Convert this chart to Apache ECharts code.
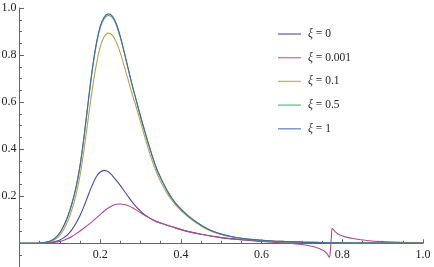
<!DOCTYPE html>
<html>
<head>
<meta charset="utf-8">
<script src="https://cdn.jsdelivr.net/npm/echarts@6/dist/echarts.min.js"></script>
<style>html,body{margin:0;padding:0;background:#fff}#c{width:434px;height:267px}</style>
</head>
<body>
<div id="c"></div>
<script>
// Tick labels
const xTicks = [0.2, 0.4, 0.6, 0.8, 1.0];
const yTicks = [0.2, 0.4, 0.6, 0.8, 1.0];
const legendLabels = ['0', '0.001', '0.1', '0.5', '1'];

// Series values [x, y]
const xi0 = [[0,0],[0.05,0],[0.06,0.001],[0.07,0.002],[0.08,0.004],[0.09,0.008],[0.10,0.014],[0.11,0.024],[0.12,0.038],[0.13,0.058],[0.14,0.085],[0.15,0.118],[0.16,0.158],[0.17,0.203],[0.18,0.246],[0.19,0.282],[0.20,0.303],[0.21,0.31],[0.22,0.304],[0.23,0.288],[0.24,0.267],[0.25,0.245],[0.26,0.221],[0.27,0.197],[0.28,0.174],[0.29,0.154],[0.30,0.137],[0.31,0.122],[0.32,0.11],[0.33,0.1],[0.34,0.092],[0.35,0.086],[0.36,0.08],[0.38,0.069],[0.40,0.058],[0.45,0.038],[0.50,0.024],[0.55,0.015],[0.60,0.009],[0.65,0.006],[0.70,0.004],[0.80,0.002],[0.90,0.001],[1.0,0.0]];
const xi0001 = [[0,0],[0.05,0],[0.06,0.001],[0.07,0.002],[0.08,0.003],[0.09,0.005],[0.10,0.008],[0.11,0.013],[0.12,0.02],[0.13,0.029],[0.14,0.04],[0.15,0.052],[0.16,0.065],[0.17,0.078],[0.18,0.092],[0.19,0.107],[0.20,0.122],[0.21,0.137],[0.22,0.15],[0.23,0.16],[0.24,0.166],[0.25,0.167],[0.26,0.165],[0.27,0.159],[0.28,0.151],[0.29,0.141],[0.30,0.13],[0.31,0.119],[0.32,0.109],[0.33,0.1],[0.34,0.092],[0.35,0.086],[0.36,0.08],[0.38,0.069],[0.40,0.058],[0.45,0.038],[0.50,0.024],[0.55,0.015],[0.60,0.008],[0.65,0.002],[0.70,-0.005],[0.728,-0.014],[0.753,-0.031],[0.762,-0.044],[0.768,-0.06],[0.7705,-0.03],[0.773,0.03],[0.775,0.064],[0.778,0.058],[0.785,0.045],[0.794,0.035],[0.81,0.026],[0.827,0.02],[0.86,0.012],[0.90,0.007],[0.95,0.004],[1.0,0.002]];
const xi01 = [[0,0],[0.04,0],[0.05,0.001],[0.06,0.002],[0.07,0.005],[0.08,0.01],[0.09,0.019],[0.10,0.034],[0.11,0.06],[0.12,0.096],[0.13,0.144],[0.14,0.206],[0.15,0.288],[0.16,0.398],[0.17,0.525],[0.18,0.65],[0.19,0.755],[0.20,0.835],[0.21,0.878],[0.22,0.893],[0.23,0.885],[0.24,0.855],[0.25,0.808],[0.26,0.75],[0.27,0.69],[0.28,0.63],[0.29,0.575],[0.30,0.515],[0.31,0.455],[0.32,0.397],[0.33,0.345],[0.34,0.3],[0.35,0.262],[0.36,0.23],[0.37,0.201],[0.38,0.178],[0.39,0.157],[0.40,0.14],[0.42,0.109],[0.44,0.085],[0.46,0.064],[0.48,0.048],[0.50,0.037],[0.52,0.029],[0.55,0.02],[0.60,0.012],[0.65,0.007],[0.70,0.005],[0.75,0.003],[0.80,0.002],[0.90,0.001],[1.0,0.0]];
const xi05 = [[0,0],[0.04,0],[0.05,0.001],[0.06,0.003],[0.07,0.006],[0.08,0.013],[0.09,0.025],[0.10,0.044],[0.11,0.075],[0.12,0.115],[0.13,0.169],[0.14,0.236],[0.15,0.328],[0.16,0.452],[0.17,0.594],[0.18,0.73],[0.19,0.84],[0.20,0.916],[0.21,0.956],[0.22,0.968],[0.23,0.96],[0.24,0.928],[0.25,0.874],[0.26,0.807],[0.27,0.736],[0.28,0.666],[0.29,0.602],[0.30,0.538],[0.31,0.478],[0.32,0.419],[0.33,0.365],[0.34,0.316],[0.35,0.277],[0.36,0.242],[0.37,0.211],[0.38,0.185],[0.39,0.163],[0.40,0.145],[0.42,0.113],[0.44,0.087],[0.46,0.066],[0.48,0.05],[0.50,0.038],[0.52,0.03],[0.55,0.021],[0.60,0.013],[0.65,0.008],[0.70,0.005],[0.75,0.003],[0.80,0.002],[0.90,0.001],[1.0,0.0]];
const xi1 = [[0,0],[0.04,0],[0.05,0.001],[0.06,0.003],[0.07,0.006],[0.08,0.013],[0.09,0.025],[0.10,0.045],[0.11,0.076],[0.12,0.116],[0.13,0.17],[0.14,0.238],[0.15,0.33],[0.16,0.455],[0.17,0.598],[0.18,0.735],[0.19,0.845],[0.20,0.922],[0.21,0.962],[0.22,0.975],[0.23,0.966],[0.24,0.933],[0.25,0.878],[0.26,0.81],[0.27,0.738],[0.28,0.668],[0.29,0.604],[0.30,0.54],[0.31,0.48],[0.32,0.421],[0.33,0.366],[0.34,0.317],[0.35,0.278],[0.36,0.243],[0.37,0.212],[0.38,0.186],[0.39,0.164],[0.40,0.146],[0.42,0.114],[0.44,0.088],[0.46,0.067],[0.48,0.051],[0.50,0.039],[0.52,0.031],[0.55,0.021],[0.60,0.013],[0.65,0.008],[0.70,0.005],[0.75,0.003],[0.80,0.002],[0.90,0.001],[1.0,0.0]];

const seriesData = [xi0, xi0001, xi01, xi05, xi1];
const colors = ['#4848ad', '#b04a88', '#b3a24e', '#4caa62', '#4668a8'];
const legendColors = ['#6f6fc2', '#cc80ad', '#c4b878', '#7cc18f', '#7391c4'];
const FONT = 'Liberation Serif';
const axisColor = '#666';

const chart = echarts.init(document.getElementById('c'), null, {renderer: 'canvas'});
const names = legendLabels.map(l => 'ξ = ' + l);

function fmt(v, list) {
  const r = Math.round(v * 100) / 100;
  for (const t of list) { if (Math.abs(r - t) < 1e-6) return t.toFixed(1); }
  return '';
}

chart.setOption({
  animation: false,
  backgroundColor: '#fff',
  color: colors,
  grid: {left: 19.5, right: 11, top: 8, bottom: 0.2, containLabel: false, outerBoundsMode: 'none'},
  legend: {
    orient: 'vertical',
    left: 278, top: 28, padding: 0,
    itemWidth: 23, itemHeight: 12, itemGap: 11.7,
    icon: 'path://M0,5.3 L23,5.3 L23,6.7 L0,6.7 Z',
    data: names.map((n, i) => ({name: n, itemStyle: {color: legendColors[i]}})),
    formatter: function (n) { return '{i|ξ}{n| = ' + n.split('= ')[1] + '}'; },
    textStyle: {
      fontFamily: FONT, fontSize: 11.5, color: '#222',
      rich: {
        i: {fontFamily: FONT, fontSize: 11.5, fontStyle: 'italic', color: '#222', padding: [0,0,0,2]},
        n: {fontFamily: FONT, fontSize: 11.5, color: '#222'}
      }
    }
  },
  xAxis: {
    type: 'value', min: 0, max: 1.0, interval: 0.2,
    axisLine: {onZero: true, lineStyle: {color: axisColor, width: 1}},
    axisTick: {show: true, inside: true, length: 4, lineStyle: {color: axisColor}},
    minorTick: {show: true, splitNumber: 4, length: 2.5, lineStyle: {color: axisColor}},
    splitLine: {show: false},
    axisLabel: {
      margin: -18, fontFamily: FONT, fontSize: 12, color: '#222',
      formatter: v => fmt(v, xTicks)
    }
  },
  yAxis: [{
    type: 'value', min: -0.1, max: 1.0, interval: 0.05,
    axisLine: {onZero: true, lineStyle: {color: axisColor, width: 1}},
    axisTick: {show: true, inside: true, length: 2.5, lineStyle: {color: axisColor}},
    splitLine: {show: false},
    axisLabel: {
      margin: 3, fontFamily: FONT, fontSize: 12, color: '#222',
      formatter: v => fmt(v, yTicks)
    }
  }, {
    type: 'value', min: -0.1, max: 1.0, position: 'left',
    axisLine: {show: false},
    axisTick: {show: true, inside: true, length: 4.5, customValues: [0, ...yTicks], lineStyle: {color: axisColor}},
    axisLabel: {show: false},
    splitLine: {show: false}
  }],
  series: seriesData.map((d, i) => ({
    name: names[i], type: 'line', data: d, yAxisIndex: 0,
    symbol: 'none', smooth: 0.3,
    lineStyle: {width: 1.1, color: colors[i]},
    itemStyle: {color: colors[i]},
    z: 2 + i
  }))
});
</script>
</body>
</html>
